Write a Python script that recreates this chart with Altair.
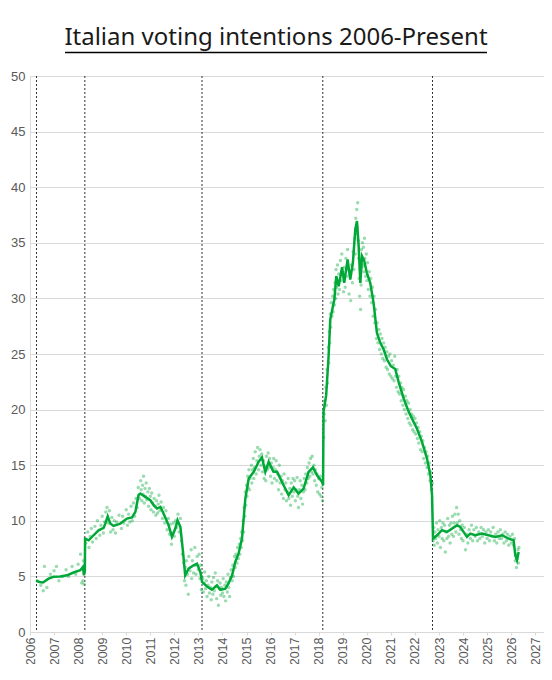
import altair as alt
import pandas as pd

TITLE = "Italian voting intentions 2006-Present"

# Election dates (decimal years)
election_years = [2006.27, 2008.28, 2013.15, 2018.17, 2022.73]

# x tick labels
tick_years = list(range(2006, 2028))
y_ticks = list(range(0, 55, 5))

# Trend line (decimal year, %)
trend_years = [
    2006.26, 2006.40, 2006.54, 2006.77, 2006.98, 2007.26, 2007.54, 2007.81, 2008.09, 2008.20,
    2008.24, 2008.28, 2008.29, 2008.44, 2008.64, 2008.85, 2009.06, 2009.13, 2009.23, 2009.34,
    2009.47, 2009.75, 2010.03, 2010.24, 2010.38, 2010.51, 2010.58, 2010.79, 2011.00, 2011.14,
    2011.28, 2011.42, 2011.55, 2011.76, 2011.90, 2012.04, 2012.13, 2012.25, 2012.36, 2012.45,
    2012.59, 2012.80, 2012.94, 2013.08, 2013.15, 2013.36, 2013.56, 2013.77, 2013.91, 2014.12,
    2014.25, 2014.40, 2014.53, 2014.67, 2014.81, 2014.95, 2015.09, 2015.30, 2015.50, 2015.64,
    2015.78, 2015.92, 2016.12, 2016.27, 2016.54, 2016.75, 2016.96, 2017.16, 2017.37, 2017.58,
    2017.76, 2017.93, 2018.14, 2018.18, 2018.20, 2018.31, 2018.41, 2018.48, 2018.59, 2018.65,
    2018.73, 2018.83, 2018.97, 2019.06, 2019.20, 2019.31, 2019.42, 2019.52, 2019.59, 2019.66,
    2019.73, 2019.80, 2019.89, 2020.00, 2020.14, 2020.28, 2020.42, 2020.56, 2020.70, 2020.84,
    2021.00, 2021.18, 2021.32, 2021.53, 2021.74, 2021.94, 2022.08, 2022.29, 2022.50, 2022.64,
    2022.71, 2022.75, 2022.92, 2023.12, 2023.33, 2023.54, 2023.75, 2023.88, 2024.02, 2024.16,
    2024.30, 2024.50, 2024.78, 2025.06, 2025.34, 2025.62, 2025.89, 2026.10, 2026.17, 2026.24,
    2026.31,
]
trend_values = [
    4.6, 4.5, 4.45, 4.8, 4.97, 5.0, 5.1, 5.35, 5.55, 5.85,
    5.1, 5.5, 8.4, 8.25, 8.7, 9.15, 9.36, 9.75, 10.4, 9.75,
    9.54, 9.75, 10.2, 10.3, 10.8, 12.3, 12.45, 12.15, 11.85, 11.4,
    11.1, 11.25, 10.65, 9.6, 8.55, 9.3, 10.05, 9.45, 7.2, 5.1,
    5.7, 6.0, 6.15, 5.4, 4.5, 4.1, 3.8, 4.2, 3.8, 3.9,
    4.37, 5.1, 6.3, 7.06, 8.4, 12.0, 13.8, 14.4, 15.3, 15.7,
    14.4, 15.3, 14.4, 14.4, 13.2, 12.3, 13.0, 12.45, 12.9, 14.4,
    14.8, 14.1, 13.5, 13.2, 19.8, 21.3, 24.8, 28.1, 29.3, 29.9,
    32.0, 31.1, 32.8, 31.4, 33.5, 31.7, 33.2, 36.2, 36.95, 34.7,
    31.4, 33.8, 33.4, 32.3, 31.4, 29.6, 26.9, 26.0, 25.4, 24.5,
    23.9, 23.65, 22.5, 21.0, 19.8, 18.9, 18.3, 17.1, 15.6, 14.1,
    12.3, 8.4, 8.7, 9.15, 9.0, 9.3, 9.6, 9.45, 9.0, 8.55,
    8.85, 8.7, 8.85, 8.7, 8.55, 8.7, 8.4, 8.25, 6.9, 6.45,
    7.2,
]

# Individual polls (decimal year, %), grouped by period
polls_2006_2008 = [
    (2006.30, 4.6), (2006.45, 4.2), (2006.55, 3.7), (2006.60, 5.9), (2006.70, 4.0),
    (2006.85, 5.2), (2007.00, 5.5), (2007.10, 5.9), (2007.20, 4.6), (2007.35, 5.0),
    (2007.50, 5.6), (2007.60, 5.0), (2007.75, 5.9), (2007.90, 5.2), (2008.00, 6.1),
    (2008.10, 7.0), (2008.15, 4.4), (2008.20, 4.6), (2008.22, 6.4), (2008.25, 4.3),
]
polls_2008_2010 = [
    (2008.32, 8.0), (2008.40, 9.0), (2008.45, 7.6), (2008.50, 8.6), (2008.55, 9.3),
    (2008.60, 8.1), (2008.70, 9.5), (2008.75, 8.4), (2008.80, 10.0), (2008.90, 8.7),
    (2008.95, 9.6), (2009.00, 10.4), (2009.05, 8.9), (2009.10, 9.9), (2009.15, 10.8),
    (2009.20, 11.2), (2009.25, 9.8), (2009.30, 10.9), (2009.35, 9.0), (2009.40, 10.3),
    (2009.45, 9.2), (2009.50, 10.0), (2009.55, 8.9), (2009.60, 9.9), (2009.70, 10.5),
    (2009.80, 9.3), (2009.85, 10.4), (2009.90, 9.8), (2010.00, 11.0), (2010.05, 9.6),
    (2010.10, 10.6), (2010.15, 9.9), (2010.20, 11.3), (2010.25, 10.0), (2010.30, 11.6),
    (2010.35, 10.4), (2010.40, 12.0), (2010.45, 11.2), (2010.50, 13.0), (2010.55, 12.0),
]
polls_2010_2012 = [
    (2010.60, 13.6), (2010.62, 12.8), (2010.65, 11.8), (2010.68, 13.2), (2010.70, 12.4),
    (2010.72, 14.0), (2010.75, 11.6), (2010.78, 12.9), (2010.80, 12.2), (2010.83, 13.4),
    (2010.86, 11.9), (2010.90, 12.6), (2010.93, 11.3), (2010.96, 12.9), (2011.00, 12.2),
    (2011.03, 11.0), (2011.06, 12.5), (2011.10, 11.6), (2011.13, 10.8), (2011.16, 12.0),
    (2011.20, 11.3), (2011.23, 10.5), (2011.26, 11.8), (2011.30, 10.7), (2011.33, 11.5),
    (2011.36, 12.3), (2011.40, 10.9), (2011.45, 11.7), (2011.50, 10.2), (2011.55, 11.2),
    (2011.60, 9.8), (2011.65, 10.9), (2011.70, 9.2), (2011.75, 10.2), (2011.80, 8.8),
    (2011.85, 9.7), (2011.88, 7.9), (2011.92, 8.9), (2011.96, 9.8), (2012.00, 8.6),
    (2012.05, 10.0), (2012.10, 9.4), (2012.15, 10.6), (2012.20, 9.0), (2012.25, 10.2),
    (2012.30, 8.2), (2012.33, 7.0), (2012.38, 6.2), (2012.42, 4.6), (2012.45, 5.8),
]
polls_2012_2013 = [
    (2012.48, 4.2), (2012.50, 6.4), (2012.55, 5.2), (2012.58, 3.4), (2012.60, 6.8),
    (2012.65, 5.5), (2012.70, 7.4), (2012.72, 4.8), (2012.75, 6.4), (2012.80, 5.3),
    (2012.85, 7.6), (2012.88, 6.0), (2012.90, 5.2), (2012.95, 6.8), (2013.00, 5.6),
    (2013.03, 7.0), (2013.06, 4.8), (2013.10, 6.0), (2013.12, 3.8), (2013.14, 5.0),
]
polls_2013_2014 = [
    (2013.18, 4.8), (2013.20, 3.6), (2013.23, 4.4), (2013.26, 5.4), (2013.30, 3.9),
    (2013.33, 4.6), (2013.36, 3.2), (2013.40, 4.2), (2013.43, 5.0), (2013.46, 3.5),
    (2013.50, 4.0), (2013.53, 2.9), (2013.56, 4.5), (2013.60, 3.4), (2013.63, 4.9),
    (2013.66, 3.7), (2013.70, 5.3), (2013.73, 4.1), (2013.76, 3.0), (2013.80, 4.6),
    (2013.83, 2.4), (2013.86, 3.9), (2013.90, 4.4), (2013.93, 3.3), (2013.96, 4.0),
    (2014.00, 3.5), (2014.03, 4.8), (2014.06, 3.2), (2014.10, 4.2), (2014.13, 2.8),
    (2014.16, 4.5), (2014.20, 3.6), (2014.23, 5.2), (2014.26, 4.0), (2014.30, 3.2),
    (2014.33, 4.9), (2014.36, 5.6), (2014.40, 4.6), (2014.43, 6.0), (2014.46, 5.0),
    (2014.50, 6.8), (2014.53, 5.8), (2014.56, 7.0), (2014.60, 6.2), (2014.63, 7.6),
]
polls_2014_2015 = [
    (2014.66, 6.6), (2014.70, 7.9), (2014.72, 7.0), (2014.75, 8.4), (2014.78, 7.6),
    (2014.80, 9.0), (2014.83, 8.2), (2014.86, 10.0), (2014.88, 9.0), (2014.90, 11.2),
    (2014.93, 10.4), (2014.95, 12.6), (2014.97, 11.4), (2015.00, 13.2), (2015.02, 12.2),
    (2015.05, 14.0), (2015.07, 13.0), (2015.10, 14.6), (2015.12, 12.8), (2015.15, 13.8),
]
polls_2015_2018 = [
    (2015.20, 15.0), (2015.22, 13.4), (2015.25, 14.6), (2015.28, 15.6), (2015.30, 13.8),
    (2015.33, 14.8), (2015.36, 16.2), (2015.40, 14.2), (2015.43, 15.4), (2015.46, 16.6),
    (2015.50, 14.6), (2015.53, 15.8), (2015.56, 16.4), (2015.60, 15.0), (2015.63, 16.0),
    (2015.66, 14.4), (2015.70, 15.4), (2015.73, 13.8), (2015.76, 14.9), (2015.80, 13.6),
    (2015.83, 15.8), (2015.86, 14.6), (2015.90, 16.1), (2015.93, 14.8), (2015.96, 15.6),
    (2016.00, 14.0), (2016.03, 15.2), (2016.06, 13.4), (2016.10, 14.8), (2016.13, 15.6),
    (2016.16, 13.8), (2016.20, 14.6), (2016.23, 15.4), (2016.26, 13.6), (2016.30, 14.2),
    (2016.33, 12.8), (2016.36, 15.0), (2016.40, 13.4), (2016.43, 14.0), (2016.46, 12.4),
    (2016.50, 13.6), (2016.53, 12.0), (2016.56, 14.2), (2016.60, 12.8), (2016.63, 13.4),
    (2016.66, 11.8), (2016.70, 12.6), (2016.73, 13.8), (2016.76, 12.0), (2016.80, 12.9),
    (2016.83, 11.4), (2016.86, 13.4), (2016.90, 12.2), (2016.93, 13.8), (2016.96, 12.6),
    (2017.00, 13.6), (2017.03, 11.8), (2017.06, 12.8), (2017.10, 13.9), (2017.13, 12.2),
    (2017.16, 11.2), (2017.20, 12.8), (2017.23, 13.6), (2017.26, 12.0), (2017.30, 13.2),
    (2017.33, 11.5), (2017.36, 12.6), (2017.40, 13.8), (2017.43, 12.8), (2017.46, 14.2),
    (2017.50, 13.4), (2017.53, 14.8), (2017.56, 13.8), (2017.60, 15.2), (2017.63, 14.0),
    (2017.66, 15.6), (2017.70, 14.4), (2017.73, 15.8), (2017.76, 14.2), (2017.80, 15.0),
    (2017.83, 13.6), (2017.86, 14.6), (2017.90, 13.2), (2017.93, 14.2), (2017.96, 12.6),
    (2018.00, 13.8), (2018.03, 12.4), (2018.06, 14.0), (2018.10, 12.2), (2018.13, 13.0),
    (2018.16, 11.8),
]
polls_2018_rise = [
    (2018.21, 17.5), (2018.23, 19.6), (2018.25, 20.8), (2018.27, 19.0), (2018.30, 22.0),
    (2018.32, 20.4), (2018.35, 23.6), (2018.37, 22.4), (2018.40, 25.6), (2018.42, 24.2),
    (2018.44, 27.0), (2018.46, 26.0), (2018.48, 28.6), (2018.50, 27.4), (2018.52, 29.6),
    (2018.55, 28.4), (2018.58, 30.2), (2018.60, 28.8), (2018.62, 30.8), (2018.65, 29.4),
    (2018.68, 31.4), (2018.70, 30.0), (2018.72, 32.6), (2018.75, 31.0), (2018.78, 33.0),
]
polls_2018_2020 = [
    (2018.80, 30.4), (2018.83, 32.2), (2018.86, 30.8), (2018.90, 33.4), (2018.93, 31.6),
    (2018.96, 34.0), (2019.00, 32.4), (2019.03, 30.6), (2019.06, 32.8), (2019.10, 31.0),
    (2019.13, 33.6), (2019.16, 32.0), (2019.20, 34.4), (2019.23, 32.6), (2019.26, 30.4),
    (2019.30, 32.2), (2019.33, 29.8), (2019.36, 33.0), (2019.40, 31.4), (2019.43, 34.2),
    (2019.46, 32.6), (2019.50, 35.4), (2019.52, 34.0), (2019.54, 37.2), (2019.56, 35.8),
    (2019.58, 38.0), (2019.60, 36.4), (2019.62, 38.6), (2019.64, 35.2), (2019.66, 33.6),
    (2019.68, 31.8), (2019.70, 30.2), (2019.72, 32.6), (2019.74, 29.0), (2019.76, 31.2),
    (2019.78, 34.4), (2019.80, 32.8), (2019.82, 35.0), (2019.84, 33.0), (2019.86, 34.6),
    (2019.88, 32.4), (2019.90, 35.4), (2019.92, 33.6), (2019.95, 32.0), (2019.98, 34.0),
    (2020.00, 31.6), (2020.03, 33.2), (2020.06, 30.8), (2020.10, 32.4), (2020.13, 30.2),
    (2020.16, 31.8), (2020.20, 29.6),
]
polls_2020_2022 = [
    (2020.23, 31.0), (2020.26, 28.4), (2020.30, 30.2), (2020.33, 27.8), (2020.36, 29.0),
    (2020.40, 26.4), (2020.43, 27.8), (2020.46, 26.0), (2020.50, 27.2), (2020.53, 25.4),
    (2020.56, 26.8), (2020.60, 25.0), (2020.63, 26.4), (2020.66, 24.6), (2020.70, 26.0),
    (2020.73, 24.4), (2020.76, 25.6), (2020.80, 23.8), (2020.83, 25.2), (2020.86, 23.6),
    (2020.90, 24.8), (2020.93, 23.2), (2020.96, 25.0), (2021.00, 23.0), (2021.03, 24.4),
    (2021.06, 22.8), (2021.10, 24.0), (2021.13, 22.6), (2021.16, 24.8), (2021.20, 23.0),
    (2021.23, 22.0), (2021.26, 23.6), (2021.30, 21.6), (2021.33, 23.0), (2021.36, 21.4),
    (2021.40, 22.4), (2021.43, 20.8), (2021.46, 22.0), (2021.50, 20.4), (2021.53, 21.8),
    (2021.56, 20.0), (2021.60, 21.2), (2021.63, 19.6), (2021.66, 20.8), (2021.70, 19.2),
    (2021.73, 20.6), (2021.76, 18.8), (2021.80, 20.0), (2021.83, 18.6), (2021.86, 19.6),
    (2021.90, 18.2), (2021.93, 19.4), (2021.96, 18.0), (2022.00, 19.2), (2022.03, 17.8),
    (2022.06, 18.8), (2022.10, 17.4), (2022.13, 18.4), (2022.16, 17.0), (2022.20, 18.0),
    (2022.23, 16.4), (2022.26, 17.6), (2022.30, 16.2), (2022.33, 17.2), (2022.36, 15.6),
    (2022.40, 16.6), (2022.43, 15.2), (2022.46, 16.2), (2022.50, 14.8), (2022.53, 15.8),
    (2022.56, 14.2), (2022.60, 15.2), (2022.63, 13.6), (2022.66, 14.4), (2022.69, 12.8),
    (2022.72, 13.4),
]
polls_2022_2026 = [
    (2022.76, 8.2), (2022.78, 9.4), (2022.80, 7.8), (2022.83, 9.0), (2022.86, 8.4),
    (2022.90, 9.8), (2022.93, 8.0), (2022.96, 9.2), (2023.00, 8.6), (2023.03, 10.0),
    (2023.06, 7.6), (2023.10, 9.4), (2023.13, 8.4), (2023.16, 9.8), (2023.20, 8.2),
    (2023.23, 9.6), (2023.26, 7.2), (2023.30, 9.0), (2023.33, 8.4), (2023.36, 10.2),
    (2023.40, 8.6), (2023.43, 9.6), (2023.46, 8.0), (2023.50, 9.8), (2023.53, 8.8),
    (2023.56, 10.4), (2023.60, 8.6), (2023.63, 9.8), (2023.66, 10.6), (2023.70, 9.0),
    (2023.73, 11.2), (2023.76, 9.8), (2023.80, 10.6), (2023.83, 8.8), (2023.86, 10.0),
    (2023.90, 9.2), (2023.93, 8.4), (2023.96, 9.6), (2024.00, 8.2), (2024.05, 9.4),
    (2024.10, 7.4), (2024.15, 8.8), (2024.20, 8.0), (2024.25, 9.2), (2024.30, 8.4),
    (2024.35, 9.6), (2024.40, 8.2), (2024.45, 9.2), (2024.50, 8.6), (2024.55, 9.4),
    (2024.60, 8.2), (2024.65, 9.0), (2024.70, 8.4), (2024.75, 9.4), (2024.80, 8.6),
    (2024.85, 9.2), (2024.90, 8.0), (2024.95, 9.0), (2025.00, 8.4), (2025.05, 9.2),
    (2025.10, 8.2), (2025.15, 9.0), (2025.20, 8.6), (2025.25, 9.4), (2025.30, 8.2),
    (2025.35, 8.8), (2025.40, 8.0), (2025.45, 9.0), (2025.50, 8.4), (2025.55, 9.2),
    (2025.60, 8.4), (2025.65, 8.8), (2025.70, 8.0), (2025.75, 9.0), (2025.80, 8.2),
    (2025.85, 8.8), (2025.90, 7.8), (2025.95, 8.6), (2026.00, 8.0), (2026.05, 8.8),
    (2026.10, 7.8), (2026.14, 8.4), (2026.17, 6.4), (2026.20, 7.0), (2026.22, 5.8),
    (2026.25, 6.6), (2026.28, 7.4), (2026.30, 6.2), (2026.32, 7.6),
]

all_polls = (polls_2006_2008 + polls_2008_2010 + polls_2010_2012 + polls_2012_2013
             + polls_2013_2014 + polls_2014_2015 + polls_2015_2018 + polls_2018_rise
             + polls_2018_2020 + polls_2020_2022 + polls_2022_2026)

GREEN = "#00a838"
GRID = "#d9d9d9"
LABEL = "#595959"
W, H = 514, 556
X_MAX = 2006 + W / 24.06

trend_df = pd.DataFrame({"year": trend_years, "value": trend_values})
polls_df = pd.DataFrame(all_polls, columns=["year", "value"])
elect_df = pd.DataFrame({"year": election_years})
title_df = pd.DataFrame({"text": [TITLE]})

x_scale = alt.Scale(domain=[2006, X_MAX], nice=False, zero=False)
y_scale = alt.Scale(domain=[0, 50], nice=False)

x_axis = alt.Axis(values=tick_years, format="d", labelAngle=-90, grid=False,
                  domainColor=GRID, tickColor=GRID, tickSize=3, labelPadding=2,
                  labelFont="Liberation Sans", labelFontSize=12.5, labelColor=LABEL,
                  title=None, labelOverlap=False)
y_axis = alt.Axis(values=y_ticks, grid=True, gridColor=GRID, domain=False, ticks=False,
                  labelPadding=5, labelFont="Liberation Sans", labelFontSize=13,
                  labelColor=LABEL, title=None)

rules = alt.Chart(elect_df).mark_rule(color="#333333", strokeDash=[2, 2], strokeWidth=1).encode(
    x=alt.X("year:Q", scale=x_scale, axis=x_axis)
)

points = alt.Chart(polls_df).mark_circle(size=12, opacity=0.4, color=GREEN).encode(
    x=alt.X("year:Q", scale=x_scale, axis=x_axis),
    y=alt.Y("value:Q", scale=y_scale, axis=y_axis),
)

line = alt.Chart(trend_df).mark_line(color=GREEN, strokeWidth=2.5).encode(
    x=alt.X("year:Q", scale=x_scale, axis=x_axis),
    y=alt.Y("value:Q", scale=y_scale, axis=y_axis),
)

title = alt.Chart(title_df).mark_text(
    font="Noto Sans", fontSize=24, color="#1a1a1a", align="center", baseline="alphabetic"
).encode(text="text:N", x=alt.value(246), y=alt.value(-31))

underline = alt.Chart(pd.DataFrame({"a": [0]})).mark_rule(color="#000000", strokeWidth=1.5).encode(
    x=alt.value(35), x2=alt.value(457), y=alt.value(-23.5)
)

chart = alt.layer(rules, points, line, title, underline).properties(
    width=W, height=H,
    autosize=alt.AutoSizeParams(type="none"),
    padding={"left": 22, "top": 68, "right": 0, "bottom": 32},
).configure_view(stroke=None).configure(background="white")

chart.save("out.html", embed_options={"renderer": "svg", "actions": False})
